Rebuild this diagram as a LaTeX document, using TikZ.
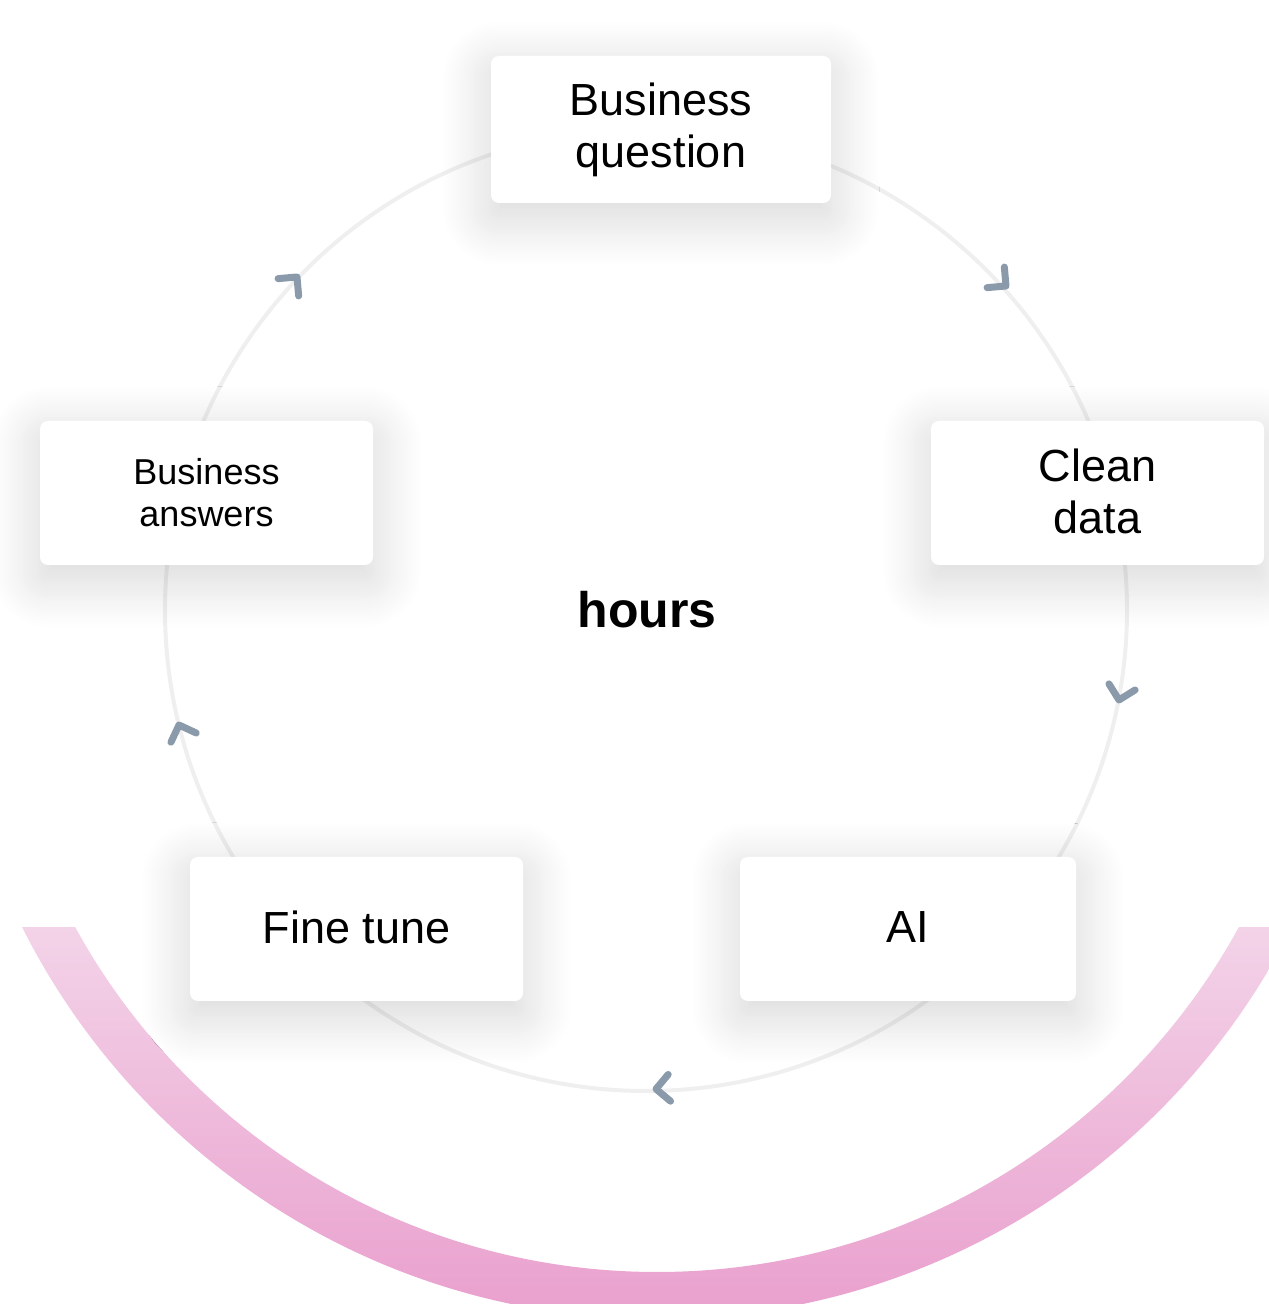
\documentclass[tikz,border=0pt]{standalone}
\usepackage{fontspec}
\setmainfont{Liberation Sans}
\usetikzlibrary{shadows.blur}
\definecolor{ringgray}{HTML}{EFEFEF}
\definecolor{chev}{HTML}{8A9AAA}
\definecolor{pinktop}{HTML}{F3D3E8}
\definecolor{pinkbot}{HTML}{E99FCD}
\tikzset{
  card/.style={fill=white, rounded corners=8pt, inner sep=0pt, align=center,
    blur shadow={shadow xshift=0pt, shadow yshift=-14pt, shadow blur radius=48pt, shadow opacity=17, shadow blur steps=20}},
  bigtxt/.style={font=\fontsize{45}{52}\selectfont},
  smalltxt/.style={font=\fontsize{36}{42}\selectfont},
  chevron/.style={draw=chev, line width=7pt, line cap=round, line join=round},
  ring/.style={draw=ringgray, line width=4pt}
}
\begin{document}
\begin{tikzpicture}[x=1pt,y=1pt]
\useasboundingbox (0,0) rectangle (1269,1304);
% pink band
\coordinate (pc) at (657,695);
\begin{scope}
  \clip (0,0) rectangle (1269,376);
  \clip ([shift={(180:710)}]pc) arc[start angle=180, end angle=360, radius=710]
        -- ([shift={(0:663)}]pc) arc[start angle=360, end angle=180, radius=663] -- cycle;
  \shade[top color=pinktop, bottom color=pinkbot] (0,-15) rectangle (1269,376);
\end{scope}
% ring
\coordinate (rc) at (646,694);
\draw[ring] (rc) circle[radius=481];
% chevrons
\coordinate (t1) at (1006,1018);
\coordinate (t2) at (1119,604);
\coordinate (t3) at (656,215);
\coordinate (t4) at (179,579);
\coordinate (t5) at (297,1027);
\draw[chevron] ([shift={(-40+135:19)}]t1) -- (t1) -- ([shift={(-40-135:19)}]t1);
\draw[chevron] ([shift={(-103+135:19)}]t2) -- (t2) -- ([shift={(-103-135:19)}]t2);
\draw[chevron] ([shift={(185+135:19)}]t3) -- (t3) -- ([shift={(185-135:19)}]t3);
\draw[chevron] ([shift={(110+135:19)}]t4) -- (t4) -- ([shift={(110-135:19)}]t4);
\draw[chevron] ([shift={(50+135:19)}]t5) -- (t5) -- ([shift={(50-135:19)}]t5);
% cards
\node[card, bigtxt, minimum width=340pt, minimum height=147pt] (bq) at (661,1174.5) {Business\\question};
\node[card, bigtxt, minimum width=333pt, minimum height=144pt] (cd) at (1097.5,811) {\raisebox{3pt}{Clean}\\\raisebox{3pt}{data}};
\node[card, smalltxt, minimum width=333pt, minimum height=144pt] (ba) at (206.5,811) {Business\\answers};
\node[card, bigtxt, minimum width=333pt, minimum height=144pt] (ft) at (356.5,375) {\raisebox{3pt}{Fine tune}};
\node[card, bigtxt, minimum width=336pt, minimum height=144pt] (ai) at (908,375) {\raisebox{3pt}{AI}};
% center label
\node[font=\fontsize{50}{56}\selectfont\bfseries] (hrs) at (647,694) {hours};
\end{tikzpicture}
\end{document}
